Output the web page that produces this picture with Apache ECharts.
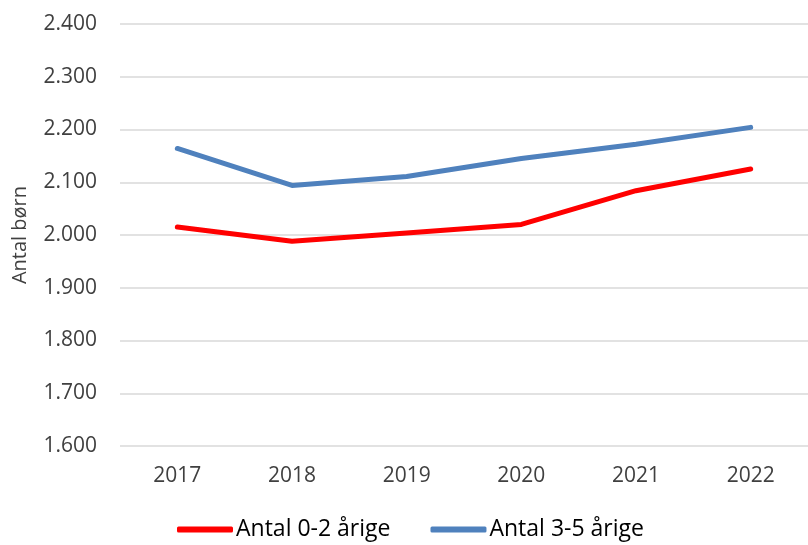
<!DOCTYPE html>
<html>
<head>
<meta charset="utf-8">
<script src="https://cdn.jsdelivr.net/npm/echarts@6/dist/echarts.min.js"></script>
<style>
  html, body { margin: 0; padding: 0; background: #fff; }
  #main { width: 808px; height: 545px; }
</style>
</head>
<body>
<div id="main"></div>
<script>
var years = ['2017', '2018', '2019', '2020', '2021', '2022'];
var boern02 = [2015, 1988, 2004, 2020, 2084, 2125];
var boern35 = [2164, 2094, 2111, 2145, 2172, 2204];
var seriesNames = ['Antal 0-2 årige', 'Antal 3-5 årige'];

var chart = echarts.init(document.getElementById('main'));

var font = 'Open Sans, Noto Sans, sans-serif';

function fmt(v) {
  // dansk tusindtalsseparator
  var s = String(Math.round(v));
  return s.replace(/\B(?=(\d{3})+(?!\d))/g, '.');
}

var option = {
  animation: false,
  color: ['#ff0000', '#4f81bd'],
  grid: {
    left: 120,
    right: -11,
    top: 24,
    bottom: 99
  },
  legend: {
    top: 518,
    left: 177,
    padding: 0,
    itemWidth: 56,
    itemHeight: 6,
    itemGap: 40,
    icon: 'roundRect',
    textStyle: { fontFamily: font, fontSize: 23, color: '#000', padding: [0, 0, 0, -2] },
    data: seriesNames
  },
  xAxis: {
    type: 'category',
    data: years,
    axisLine: { show: false },
    axisTick: { show: false },
    axisLabel: { color: '#404040', fontFamily: font, fontSize: 21, margin: 20 }
  },
  yAxis: {
    type: 'value',
    min: 1600,
    max: 2400,
    interval: 100,
    name: 'Antal børn',
    nameLocation: 'middle',
    nameGap: 90,
    nameTextStyle: { fontFamily: font, fontSize: 20, color: '#404040' },
    axisLine: { show: false },
    axisTick: { show: false },
    axisLabel: { color: '#404040', fontFamily: font, fontSize: 21, margin: 23, formatter: fmt },
    splitLine: { lineStyle: { color: '#d9d9d9', width: 1.5 } }
  },
  series: [
    {
      name: seriesNames[0],
      type: 'line',
      data: boern02,
      symbol: 'none',
      lineStyle: { width: 5, cap: 'round', join: 'round' }
    },
    {
      name: seriesNames[1],
      type: 'line',
      data: boern35,
      symbol: 'none',
      lineStyle: { width: 5, cap: 'round', join: 'round' }
    }
  ]
};

chart.setOption(option);
</script>
</body>
</html>
